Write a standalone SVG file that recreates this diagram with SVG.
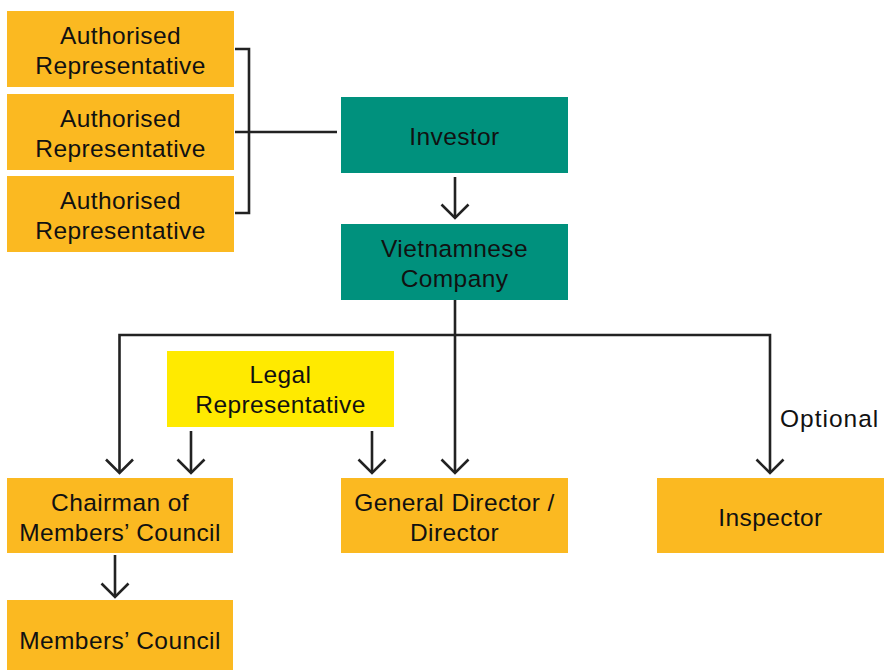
<svg xmlns="http://www.w3.org/2000/svg" width="885" height="670" viewBox="0 0 885 670">
<style>
.orange{fill:#FBB921}
.green{fill:#00917D}
.yellow{fill:#FFEA00}
text{font-family:"Liberation Sans",Arial,sans-serif;font-size:24.5px;fill:#111;text-anchor:middle;letter-spacing:0.4px}
.lbl{text-anchor:start;letter-spacing:1px}
.conn{fill:none;stroke:#222;stroke-width:2.6}
</style>
<defs>
<marker id="chev" markerUnits="userSpaceOnUse" viewBox="-16 -16 20 32" markerWidth="20" markerHeight="32" refX="0" refY="0" orient="auto">
<path d="M-13.5,-13.5 L0,0 L-13.5,13.5" fill="none" stroke="#222" stroke-width="2.6"/>
</marker>
</defs>
<rect width="885" height="670" fill="#fff"/>
<g id="auth1"><rect class="orange" x="7" y="11" width="227" height="76"/><text x="120.5" y="44">Authorised</text><text x="120.5" y="74">Representative</text></g>
<g id="auth2"><rect class="orange" x="7" y="94" width="227" height="76"/><text x="120.5" y="127">Authorised</text><text x="120.5" y="157">Representative</text></g>
<g id="auth3"><rect class="orange" x="7" y="176" width="227" height="76"/><text x="120.5" y="209">Authorised</text><text x="120.5" y="239">Representative</text></g>
<g id="investor"><rect class="green" x="341" y="97" width="227" height="76"/><text x="454.5" y="145">Investor</text></g>
<g id="company"><rect class="green" x="341" y="224" width="227" height="76"/><text x="454.5" y="257">Vietnamnese</text><text x="454.5" y="287">Company</text></g>
<g id="legal"><rect class="yellow" x="167" y="351" width="227" height="76"/><text x="280.5" y="383">Legal</text><text x="280.5" y="413">Representative</text></g>
<g id="chairman"><rect class="orange" x="7" y="478" width="226" height="75"/><text x="120" y="511">Chairman of</text><text x="120" y="541">Members’ Council</text></g>
<g id="director"><rect class="orange" x="341" y="478" width="227" height="75"/><text x="454.5" y="511">General Director /</text><text x="454.5" y="541">Director</text></g>
<g id="inspector"><rect class="orange" x="657" y="478" width="227" height="75"/><text x="770.5" y="526">Inspector</text></g>
<g id="council"><rect class="orange" x="7" y="600" width="226" height="76"/><text x="120" y="649">Members’ Council</text></g>
<g id="connectors">
<path class="conn" d="M235,49 H249 V213 H235 M235,132 H337"/>
<path class="conn" d="M455,177 V218" marker-end="url(#chev)"/>
<path class="conn" d="M455,300 V473" marker-end="url(#chev)"/>
<path class="conn" d="M455,335 H119.5 V473" marker-end="url(#chev)"/>
<path class="conn" d="M455,335 H770 V473" marker-end="url(#chev)"/>
<path class="conn" d="M191,431 V473" marker-end="url(#chev)"/>
<path class="conn" d="M372,431 V473" marker-end="url(#chev)"/>
<path class="conn" d="M115,555 V597" marker-end="url(#chev)"/>
<text class="lbl" x="780" y="427">Optional</text>
</g>
</svg>
